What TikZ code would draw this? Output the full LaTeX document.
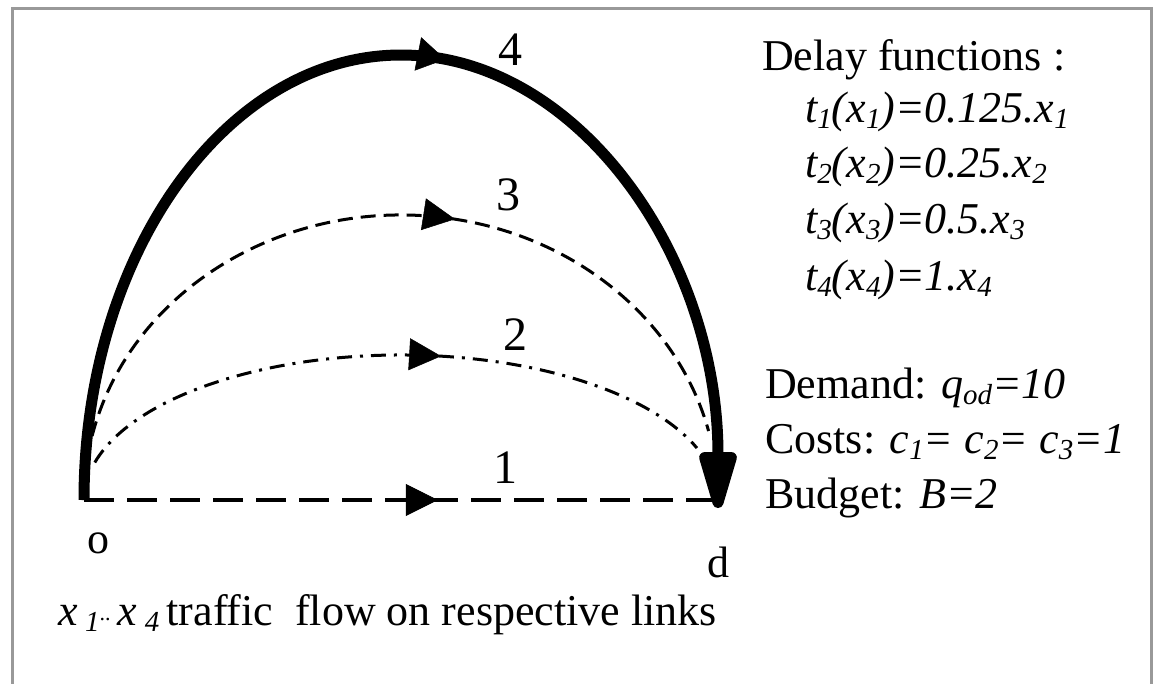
\documentclass[tikz,border=0pt]{standalone}
\usepackage{fontspec}
\setmainfont{Liberation Serif}
\usetikzlibrary{arrows.meta,decorations.markings}
\newcommand{\lowsub}[1]{\raisebox{-0.3ex}{\fontsize{29}{29}\selectfont #1}}
\begin{document}
\begin{tikzpicture}[x=1pt,y=-1pt,
  font=\fontsize{44}{52}\selectfont,
  txt/.style={anchor=base west,inner sep=0pt},
  num/.style={anchor=base,inner sep=0pt,font=\fontsize{48}{52}\selectfont},
  frameline/.style={draw=black!40,line width=3pt},
  midarrow/.style={postaction={decorate,decoration={markings,
     mark=at position #1 with {\arrow[solid,line width=0.5pt]{Triangle[length=32pt,width=32pt]}}}}},
  midarrowfour/.style={postaction={decorate,decoration={markings,
     mark=at position #1 with {\arrow[solid,line width=0.5pt]{Triangle[length=28pt,width=34pt]}}}}},
  linkone/.style={line width=3.5pt,dash pattern=on 30pt off 13pt},
  linktwo/.style={line width=3pt,dash pattern=on 15pt off 8pt on 3pt off 8pt},
  linkthree/.style={line width=3pt,dash pattern=on 15pt off 8pt},
  linkfour/.style={line width=11pt}]
\useasboundingbox (0,0) rectangle (1155,683);
% frame
\draw[frameline] (12,690) -- (12,8) -- (1151,8) -- (1151,690);
% nodes
\coordinate (o) at (84,500);
\coordinate (d) at (718,500);
\coordinate (c) at (401,500);
\node[num,font=\fontsize{44}{52}\selectfont] (olab) at (98,553) {o};
\node[num,font=\fontsize{44}{52}\selectfont] (dlab) at (718,577) {d};
% link 1
\draw[linkone,midarrow=0.558] (o) -- (d);
% link 2
\draw[linktwo,midarrow=0.575] (c) ++(165:317pt and 145pt) coordinate (s2)
   arc[start angle=165,end angle=21,x radius=317pt,y radius=145pt];
% link 3
\draw[linkthree,midarrow=0.57] (c) ++(167:317pt and 285pt) coordinate (s3)
   arc[start angle=167,end angle=14,x radius=317pt,y radius=285pt];
% link 4
\draw[linkfour,midarrowfour=0.537,shorten >=-8pt,-{Triangle[round,length=72pt,width=38pt]}] (o)
   arc[start angle=180,end angle=0,x radius=317pt,y radius=445pt];
% link labels
\node[num] (l4) at (510,65) {4};
\node[num] (l3) at (508,210) {3};
\node[num] (l2) at (515,350) {2};
\node[num] (l1) at (505,483) {1};
% right texts
\node[txt] (delay) at (762,70) {Delay functions :};
\node[txt,font=\fontsize{44}{52}\selectfont\itshape] (t1) at (805,122) {t\lowsub{1}(x\lowsub{1})=0.125.x\lowsub{1}};
\node[txt,font=\fontsize{44}{52}\selectfont\itshape] (t2) at (805,177) {t\lowsub{2}(x\lowsub{2})=0.25.x\lowsub{2}};
\node[txt,font=\fontsize{44}{52}\selectfont\itshape] (t3) at (805,233) {t\lowsub{3}(x\lowsub{3})=0.5.x\lowsub{3}};
\node[txt,font=\fontsize{44}{52}\selectfont\itshape] (t4) at (805,290) {t\lowsub{4}(x\lowsub{4})=1.x\lowsub{4}};
\node[txt] (dem) at (765,398) {Demand: \textit{q\lowsub{od}=10}};
\node[txt] (cost) at (765,453) {Costs: \textit{c\lowsub{1}= c\lowsub{2}= c\lowsub{3}=1}};
\node[txt] (bud) at (765,508) {Budget: \textit{B=2}};
% caption
\node[txt] (cap) at (58,625) {\textit{x\,\lowsub{1}}\raisebox{0.1em}{\fontsize{22}{22}\selectfont..}\,\textit{x\,\lowsub{4}}\,traffic\ \ flow on respective links};
\end{tikzpicture}
\end{document}
